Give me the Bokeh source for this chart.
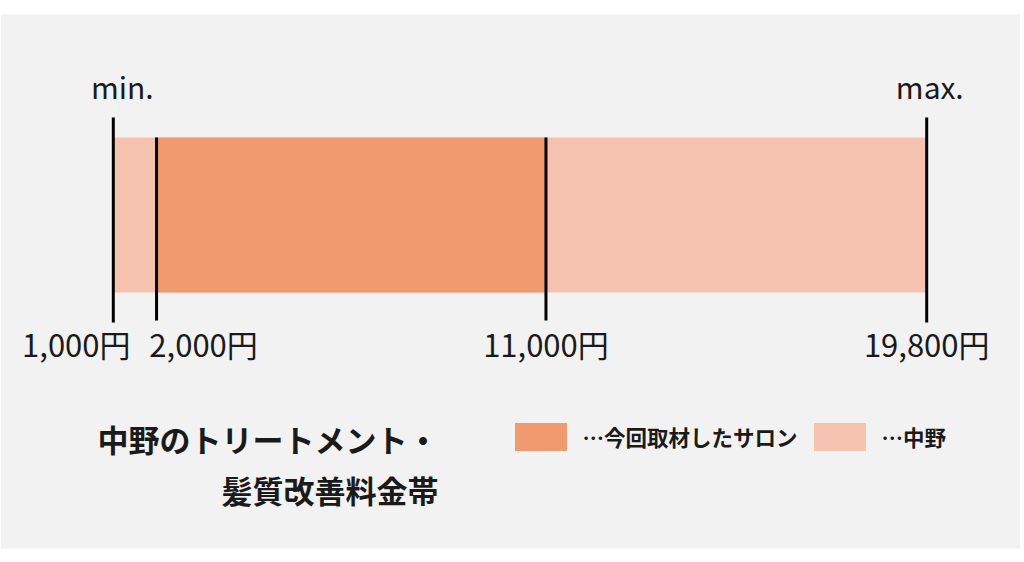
from bokeh.plotting import figure
from bokeh.models import Range1d, BoxAnnotation, Legend, LegendItem, Label, ColumnDataSource
from bokeh.embed import file_html
from bokeh.resources import INLINE
from bokeh.core.properties import value

# ---- data ----
price_points = [1000, 2000, 11000, 19800]
price_labels = ["1,000円", "2,000円", "11,000円", "19,800円"]
nakano_range = [1000, 19800]      # 中野 price band
salon_range = [2000, 11000]       # 今回取材したサロン price band
end_labels = ["min.", "max."]
end_points = [nakano_range[0], nakano_range[1]]
legend_labels = ["…今回取材したサロン", "…中野"]
title_lines = ["中野のトリートメント・", "髪質改善料金帯"]

# ---- styling ----
W, H = 1020, 554
DARK = "#f09b6f"
LIGHT = "#f5c2b0"
BG = "#f2f2f2"
INK = "#1a1a1a"
FONT = "Noto Sans CJK JP"

# pixel scale: 1000 -> 112.8 px, 19800 -> 926.2 px
k = (926.2 - 112.8) / (nakano_range[1] - nakano_range[0])
x_start = nakano_range[0] - 112.8 / k
x_end = x_start + W / k

p = figure(width=W, height=H, x_range=Range1d(x_start, x_end), y_range=Range1d(H, 0),
           output_backend="svg", toolbar_location=None, min_border=0,
           x_axis_location=None, y_axis_location=None,
           outline_line_color=None, background_fill_color="white", border_fill_color="white")
p.grid.visible = False

# gray panel
p.add_layout(BoxAnnotation(top=14, bottom=548, fill_color=BG, fill_alpha=1, line_color=None, level="underlay"))

# bars
BAR_TOP, BAR_BOT = 137, 292
r_light = p.quad(left=[nakano_range[0]], right=[nakano_range[1]], top=[BAR_TOP], bottom=[BAR_BOT],
                 fill_color=LIGHT, line_color=None)
r_dark = p.quad(left=[salon_range[0]], right=[salon_range[1]], top=[BAR_TOP], bottom=[BAR_BOT],
                fill_color=DARK, line_color=None)

# marker lines
is_end = [v in end_points for v in price_points]
seg = ColumnDataSource(dict(
    x=price_points,
    y0=[117 if e else BAR_TOP for e in is_end],
    y1=[322 if e else 320 for e in is_end],
))
p.segment(x0="x", x1="x", y0="y0", y1="y1", source=seg, line_color="black", line_width=3)

# price labels
lab = ColumnDataSource(dict(x=price_points, t=price_labels, dx=[-37, 47, 0, 0]))
p.text(x="x", y=343, text="t", x_offset="dx", source=lab, text_align="center",
       text_baseline="alphabetic", text_font=value(FONT), text_font_size="31px", text_color=INK)

# min / max
mm = ColumnDataSource(dict(x=end_points, t=end_labels, dx=[9, 3]))
p.text(x="x", y=85, text="t", x_offset="dx", source=mm, text_align="center",
       text_baseline="alphabetic", text_font=value(FONT), text_font_size="30px", text_color=INK)

# title (two lines, right aligned)
for i, line in enumerate(title_lines):
    p.add_layout(Label(x=438, y=438 + 51 * i, x_units="screen", y_units="data", text=line,
                       text_align="right", text_baseline="alphabetic", text_font=FONT,
                       text_font_style="bold", text_font_size="31px", text_color=INK))

legend = Legend(items=[LegendItem(label=legend_labels[0], renderers=[r_dark]),
                       LegendItem(label=legend_labels[1], renderers=[r_light])],
                orientation="horizontal", location=(507.5, H - 453.5),
                glyph_width=65, glyph_height=35, label_standoff=10, spacing=9,
                padding=0, margin=0, border_line_color=None, background_fill_alpha=0,
                label_text_font=FONT, label_text_font_style="bold", label_text_font_size="21.5px",
                label_text_color=INK)
p.add_layout(legend)

open("out.html", "w").write(file_html(p, INLINE))
